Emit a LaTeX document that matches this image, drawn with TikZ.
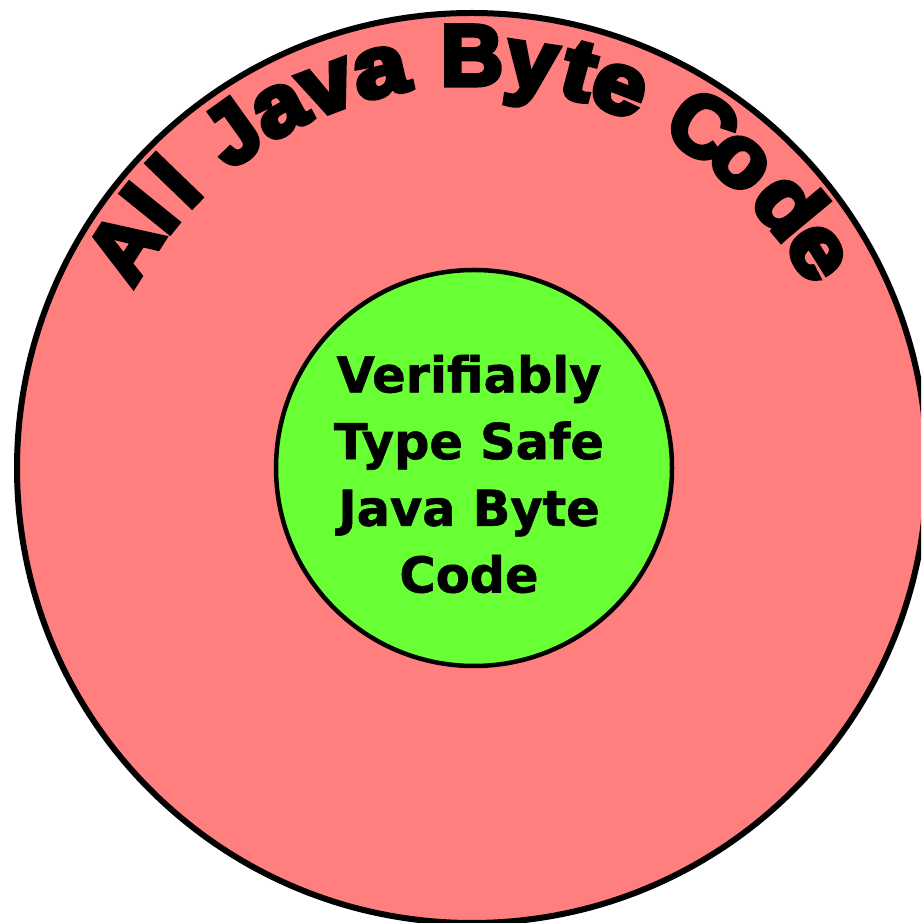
\documentclass[tikz,border=0pt]{standalone}
\usepackage{graphicx}
\usepackage{fontspec}
\setmainfont{DejaVu Sans}[BoldFeatures={FakeBold=1.2}]
\newfontfamily\arcfont{Liberation Sans}[UprightFeatures={FakeBold=6},BoldFeatures={FakeBold=6}]
\definecolor{outerred}{RGB}{255,127,127}
\definecolor{innergreen}{RGB}{104,255,52}
\begin{document}
\begin{tikzpicture}[x=1pt,y=1pt,
  ring/.style={draw=black,line width=6pt},
  arcletter/.style={anchor=base,inner sep=0pt,font=\arcfont\bfseries\fontsize{86}{86}\selectfont},
  innerlabel/.style={align=center,inner sep=0pt,font=\bfseries\fontsize{49.4}{66.7}\selectfont}]
\useasboundingbox (0,0) rectangle (921,923);
\clip (0,0) rectangle (921,923);
\coordinate (C) at (472,455);
\coordinate (G) at (474,455);
\fill[white] (0,0) rectangle (921,923);
\draw[ring,fill=outerred] (C) circle[radius=455];
\draw[ring,line width=4.5pt,fill=innergreen] (G) circle[radius=198];
\node[innerlabel] (inner) at (469,449) {Verifiably\\Type Safe\\Java Byte\\Code};
\foreach \ch/\ang/\sx [count=\i] in {A/147.5/1,l/141.1/1.05,l/136.0/1.05,J/125.6/1,a/118.2/1.05,v/110.8/1.1,a/103.0/1.12,B/90.0/1,y/81.6/1.05,t/74.9/1.1,e/68.8/1.1,C/56.0/1,o/48.8/1.05,d/39.7/1.1,e/32.0/1.1}{
  \node[arcletter,rotate=\ang-90] (c\i) at ([shift={(\ang:383pt)}]C) {\scalebox{\sx}[1]{\ch}};
}
\end{tikzpicture}
\end{document}
